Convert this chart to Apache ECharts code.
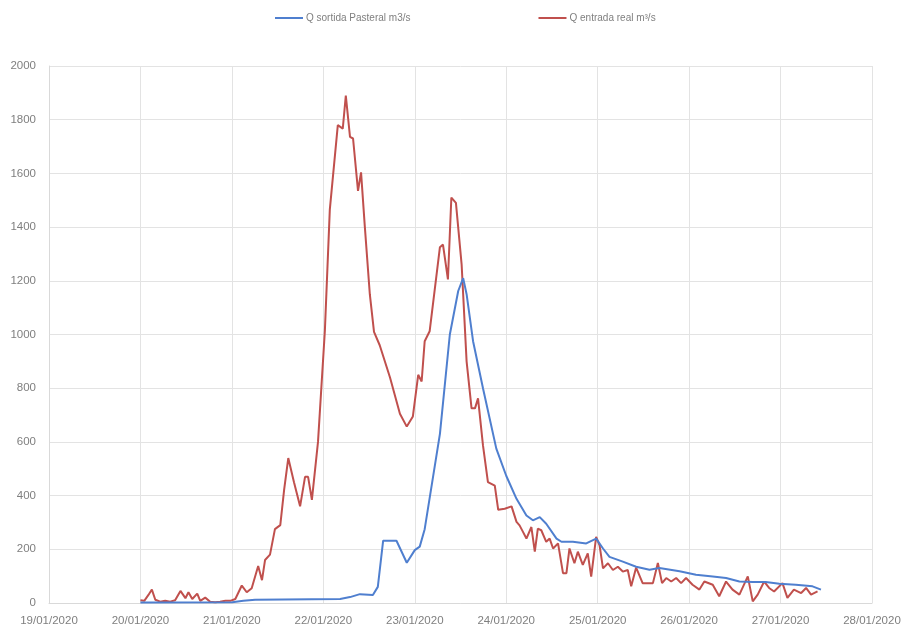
<!DOCTYPE html>
<html>
<head>
<meta charset="utf-8">
<script src="https://cdn.jsdelivr.net/npm/echarts@6/dist/echarts.min.js"></script>
<style>
html,body{margin:0;padding:0;background:#fff;}
#chart{width:908px;height:631px;}
</style>
</head>
<body>
<div id="chart"></div>
<script>
// Hours since 19/01/2020 00:00
var dateLabels = ['19/01/2020','20/01/2020','21/01/2020','22/01/2020','23/01/2020','24/01/2020','25/01/2020','26/01/2020','27/01/2020','28/01/2020'];

var seriesNames = ['Q sortida Pasteral m3/s', 'Q entrada real m³/s'];

var blueHours = [24.0,48.1,51.0,54.1,76.4,79.0,81.6,85.0,86.3,87.7,91.2,93.9,96.0,97.3,98.6,102.6,105.2,107.4,108.7,109.6,111.3,113.9,117.4,120.0,122.7,125.3,127.0,128.8,130.5,133.2,134.5,137.5,141.0,143.6,145.4,147.1,150.6,154.1,157.6,160.2,165.5,169.8,174.2,177.7,181.2,184.7,188.1,191.7,196.0,200.4,202.6];
var blueValues = [2,3,8,12,15,22,33,30,60,232,232,150,197,210,275,630,1000,1162,1210,1150,975,800,575,474,388,326,308,320,295,240,228,228,222,240,203,172,154,135,124,130,118,105,99,93,80,78,78,72,68,62,50];

var redHours = [24.0,25.0,26.1,27.0,27.9,29.2,30.5,31.8,33.1,34.5,35.8,36.6,37.6,38.9,39.7,41.0,42.3,43.6,44.9,46.3,47.6,48.9,50.6,51.9,53.2,54.9,55.9,56.7,58.0,59.3,60.7,61.7,62.8,64.3,65.9,67.2,68.0,69.0,70.6,72.4,73.7,75.8,77.1,77.9,79.0,79.8,81.1,81.9,82.9,84.2,85.3,86.8,89.5,92.1,93.9,95.5,96.9,97.8,98.6,99.9,102.6,103.4,104.7,105.6,106.8,108.3,109.6,110.9,111.8,112.6,113.9,115.2,117.0,117.9,119.6,121.4,122.7,123.5,124.4,125.3,126.6,127.5,128.3,129.2,130.5,131.4,132.3,133.6,134.9,135.8,136.6,137.9,138.8,140.1,141.4,142.3,143.6,144.5,145.4,146.7,148.0,149.3,150.6,151.9,152.8,154.1,155.8,158.5,159.8,160.9,162.0,163.3,164.6,165.9,167.2,168.9,170.7,172.0,174.2,175.9,177.7,179.4,181.2,183.4,184.7,186.0,187.7,189.0,190.3,192.5,193.8,195.5,197.4,198.7,200.0,201.7];
var redValues = [10,8,30,50,12,5,8,5,10,45,18,40,15,35,8,20,5,3,5,8,8,15,65,40,55,138,85,160,180,275,290,420,540,450,360,470,470,384,600,1013,1465,1780,1767,1890,1736,1730,1535,1604,1400,1150,1010,960,840,705,657,695,850,825,975,1012,1325,1335,1205,1510,1490,1260,900,725,725,762,587,450,437,347,351,360,302,289,265,240,283,191,277,271,228,240,203,222,111,111,203,148,191,142,185,98,246,215,129,148,123,135,117,123,62,132,74,74,149,74,93,80,93,74,93,68,50,80,68,25,80,50,31,99,6,31,80,56,43,74,19,50,37,56,31,43];

var yTicks = {min: 0, max: 2000, interval: 200};

function pairs(xs, ys){ return xs.map(function(x,i){ return [x, ys[i]]; }); }

var chart = echarts.init(document.getElementById('chart'), null, {renderer:'canvas'});
var txt = {color:'#7f7f7f', fontFamily:'Liberation Sans, Arial, sans-serif', fontSize:11.5};
chart.setOption({
  animation:false,
  backgroundColor:'#ffffff',
  legend:{
    top:8, left:270, itemGap:128, itemWidth:28, itemHeight:2,
    icon:'rect',
    textStyle:{color:'#7f7f7f', fontFamily:'Liberation Sans, Arial, sans-serif', fontSize:10, padding:[0,0,0,-2]},
    data: seriesNames
  },
  grid:{left:49, right:36, top:66, bottom:28, containLabel:false},
  xAxis:{
    type:'value', min:0, max:216, interval:24,
    axisLine:{show:true, lineStyle:{color:'#d9d9d9'}},
    axisTick:{show:false},
    splitLine:{show:true, lineStyle:{color:'#e3e3e3', width:1}},
    axisLabel:Object.assign({margin:12, showMinLabel:true, showMaxLabel:true, formatter:function(v){ return dateLabels[Math.round(v/24)]; }}, txt)
  },
  yAxis:{
    type:'value', min:yTicks.min, max:yTicks.max, interval:yTicks.interval,
    axisLine:{show:true, lineStyle:{color:'#d9d9d9'}},
    axisTick:{show:false},
    splitLine:{show:true, lineStyle:{color:'#e3e3e3', width:1}},
    axisLabel:Object.assign({margin:13, formatter:function(v){ return String(v); }}, txt)
  },
  series:[
    {name:seriesNames[0], type:'line', data:pairs(blueHours, blueValues), showSymbol:false, symbol:'none',
     lineStyle:{color:'#4f7fcf', width:2}, itemStyle:{color:'#4f7fcf'}, z:3},
    {name:seriesNames[1], type:'line', data:pairs(redHours, redValues), showSymbol:false, symbol:'none',
     lineStyle:{color:'#c0504d', width:2}, itemStyle:{color:'#c0504d'}, z:2}
  ]
});
</script>
</body>
</html>
